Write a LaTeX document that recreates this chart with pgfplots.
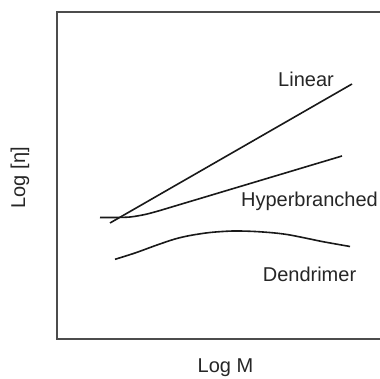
\documentclass[border=0pt]{standalone}
\usepackage{pgfplots}
\pgfplotsset{compat=1.18}
\usepackage{fontspec}
\setmainfont{Liberation Sans}
\begin{document}
\begin{tikzpicture}[x=1pt,y=1pt]
\useasboundingbox (0,0) rectangle (380,378);
\fill[white] (0,0) rectangle (380,378);
\begin{axis}[
  scale only axis,
  width=328pt, height=327pt,
  at={(57pt,39pt)}, anchor=south west,
  xmin=57, xmax=385, ymin=39, ymax=366,
  ticks=none,
  clip=false,
  axis line style={black!70, line width=1.6pt},
  xlabel={Log M},
  ylabel={Log [η]},
  every axis x label/.style={at={(axis cs:225.5,10)}, anchor=center, font=\fontsize{20}{24}\selectfont, text=black!85},
  every axis y label/.style={at={(axis cs:20,200.3)}, anchor=center, rotate=90, font=\fontsize{20}{24}\selectfont, text=black!85},
]
% Linear
\addplot[black!90, line width=1.6pt] coordinates {(110,155) (352,294)};
% Hyperbranched
\addplot[black!90, line width=1.6pt, smooth] coordinates {
  (100,160.5) (115,160.5) (130,161) (145,163.5) (160,167.5) (175,172) (342,222)};
% Dendrimer
\addplot[black!90, line width=1.6pt, smooth] coordinates {
  (115,118.7) (135,125) (157,133) (175,139) (190,142.5) (210,145.5) (233,147)
  (255,146.5) (275,145) (290,143) (310,139) (323,136.3) (350,131.5)};
\node[font=\fontsize{20}{24}\selectfont, text=black!85] at (axis cs:306,299) {Linear};
\node[font=\fontsize{20}{24}\selectfont, text=black!85] at (axis cs:309.5,177) {Hyperbranched};
\node[font=\fontsize{20}{24}\selectfont, text=black!85] at (axis cs:309.5,104) {Dendrimer};
\end{axis}
\end{tikzpicture}
\end{document}
